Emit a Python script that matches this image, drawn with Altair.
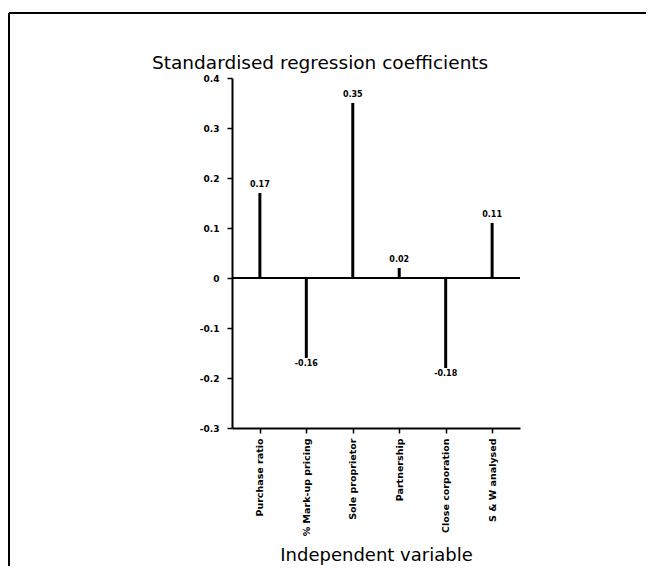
import altair as alt
import pandas as pd

categories = ["Purchase ratio", "% Mark-up pricing", "Sole proprietor",
              "Partnership", "Close corporation", "S & W analysed"]
values = [0.17, -0.16, 0.35, 0.02, -0.18, 0.11]
value_labels = ["0.17", "-0.16", "0.35", "0.02", "-0.18", "0.11"]
chart_title = "Standardised regression coefficients"
x_title = "Independent variable"

df = pd.DataFrame({"cat": categories, "val": values, "lab": value_labels})

FONT = "DejaVu Sans"

x_enc = alt.X("cat:N", sort=categories,
              scale=alt.Scale(type="point", padding=0.6),
              axis=alt.Axis(title=x_title, labelAngle=-90,
                            labelFont=FONT, labelFontSize=9.5, labelFontWeight="bold",
                            labelColor="black", labelPadding=5,
                            titleFont=FONT, titleFontSize=18, titleFontWeight="normal",
                            titleColor="black", titleY=118, titleBaseline="top",
                            domainColor="black", domainWidth=2,
                            tickColor="black", tickWidth=1.5, tickSize=5))
y_scale = alt.Scale(domain=[-0.3, 0.4], nice=False, zero=False)
y_axis = alt.Axis(title=None, values=[-0.3, -0.2, -0.1, 0, 0.1, 0.2, 0.3, 0.4],
                  labelExpr="replace(format(datum.value, '.1~f'), '\u2212', '-')",
                  labelFont=FONT, labelFontSize=9, labelFontWeight="bold",
                  labelColor="black", labelPadding=8,
                  domainColor="black", domainWidth=2,
                  tickColor="black", tickWidth=1.5, tickSize=5, grid=False)

base = alt.Chart(df)

stems = base.mark_rule(color="black", strokeWidth=3).encode(
    x=x_enc,
    y=alt.Y("val:Q", scale=y_scale, axis=y_axis),
    y2=alt.datum(0),
)

zero_line = base.mark_rule(color="black", strokeWidth=2).encode(
    y=alt.datum(0)
)

pos_labels = base.transform_filter("datum.val >= 0").mark_text(
    font=FONT, fontSize=8, fontWeight="bold", baseline="bottom", dy=-4, color="black"
).encode(x=alt.X("cat:N", sort=categories), y=alt.Y("val:Q"), text="lab:N")

neg_labels = base.transform_filter("datum.val < 0").mark_text(
    font=FONT, fontSize=8, fontWeight="bold", baseline="top", dy=2, color="black"
).encode(x=alt.X("cat:N", sort=categories), y=alt.Y("val:Q"), text="lab:N")

one = alt.Data(values=[{"t": chart_title}])
title_mark = alt.Chart(one).mark_text(
    font=FONT, fontSize=18.5, align="left", baseline="alphabetic", color="black"
).encode(x=alt.value(-80), y=alt.value(-9), text="t:N")
frame_top = alt.Chart(one).mark_rule(color="black", strokeWidth=2).encode(
    x=alt.value(-223), x2=alt.value(420), y=alt.value(-65))
frame_left = alt.Chart(one).mark_rule(color="black", strokeWidth=2).encode(
    x=alt.value(-223), y=alt.value(-65), y2=alt.value(490))
frame_bottom = alt.Chart(one).mark_rule(color="black", strokeWidth=2).encode(
    x=alt.value(-223), x2=alt.value(-124), y=alt.value(490))

chart = alt.layer(
    zero_line, stems, pos_labels, neg_labels, title_mark,
    frame_top, frame_left, frame_bottom
).properties(
    width=288, height=350,
    background="white",
    autosize=alt.AutoSizeParams(type="none"),
    padding={"left": 224, "top": 70, "right": 126, "bottom": 138},
).configure_view(stroke=None)

chart.save("out.html", embed_options={"renderer": "svg", "actions": False})
